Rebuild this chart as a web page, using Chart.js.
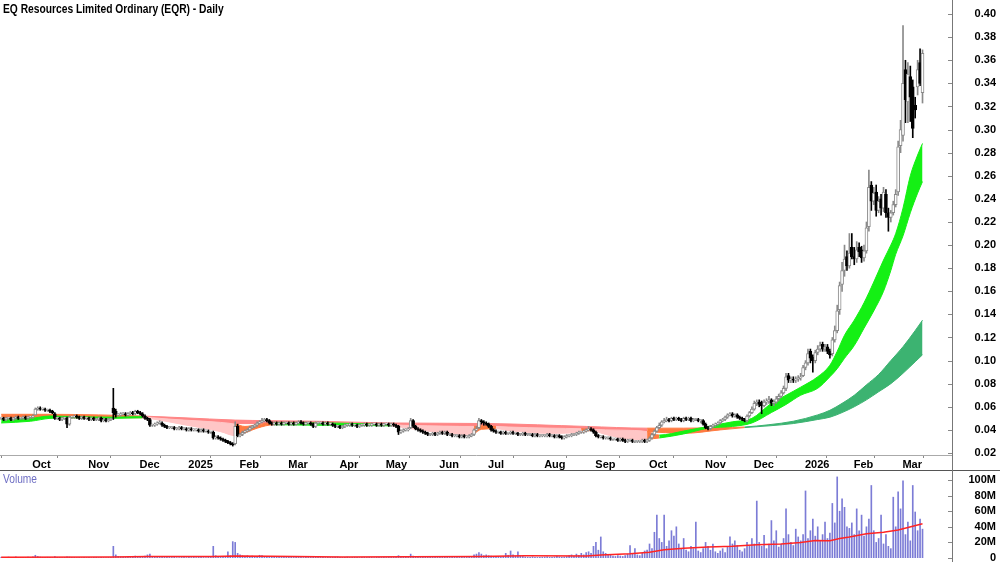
<!DOCTYPE html>
<html>
<head>
<meta charset="utf-8">
<script src="https://cdn.jsdelivr.net/npm/chart.js@4.4.1/dist/chart.umd.min.js"></script>
<style>
  html, body { margin: 0; padding: 0; background: #fff; }
  #wrap { position: relative; width: 1000px; height: 562px; overflow: hidden;
          font-family: 'Liberation Sans', Arial, sans-serif; }
  #price { position: absolute; left: 0; top: 0; }
  #vol { position: absolute; left: 0; top: 471px; }
  .title { position: absolute; left: 3px; top: 2px; font-weight: bold; font-size: 12px; color: #000;
           white-space: nowrap; transform: scaleX(0.855); transform-origin: 0 0; }
  .vlabel { position: absolute; left: 3px; top: 472px; font-size: 12px; color: #6f6fc4;
            transform: scaleX(0.85); transform-origin: 0 0; }
  .hline { position: absolute; left: 0; top: 470px; width: 1000px; height: 1px; background: #555; }
  .vline { position: absolute; left: 952px; top: 0; width: 1px; height: 562px; background: #777; }
</style>
</head>
<body>
<div id="wrap">
  <canvas id="price" width="1000" height="470"></canvas>
  <canvas id="vol" width="1000" height="100"></canvas>
  <div class="hline"></div>
  <div class="vline"></div>
  <div class="title">EQ Resources Limited Ordinary (EQR) - Daily</div>
  <div class="vlabel">Volume</div>
</div>
<script>
// daily bars, prices in cents, one line per month (Sep 2024 .. Mar 2026)
const opens = [
  5.0,5.0,4.9,5.0,5.0,4.9,5.0,5.1,5.0,5.0,5.1,5.0,
  5.1,5.1,5.3,5.8,5.9,5.8,5.8,5.7,5.7,5.6,5.4,5.0,5.0,4.9,5.0,5.0,4.5,5.1,5.1,5.2,5.1,5.0,5.1,
  5.0,5.0,4.9,5.0,4.9,4.9,5.0,4.8,4.9,4.8,4.9,5.9,5.6,5.3,5.3,5.4,5.4,5.3,5.4,5.5,5.4,
  5.6,5.5,5.4,5.2,5.0,4.9,4.4,4.4,4.5,4.6,4.6,4.4,4.3,4.2,4.2,4.2,4.1,4.1,4.2,4.1,
  4.1,4.0,4.1,4.0,4.0,4.0,3.9,4.0,3.9,3.9,3.8,3.8,3.3,3.4,3.3,3.2,3.1,3.0,2.9,2.8,2.8,
  4.3,3.5,3.6,3.8,3.9,4.0,4.2,4.3,4.4,4.6,4.7,4.8,4.9,4.8,4.6,4.5,4.6,4.5,4.6,4.5,
  4.6,4.6,4.5,4.6,4.5,4.6,4.7,4.6,4.5,4.6,4.6,4.5,4.3,4.6,4.6,4.6,4.5,4.6,4.5,4.5,4.4,
  4.3,4.3,4.2,4.3,4.4,4.4,4.5,4.4,4.4,4.3,4.4,4.4,4.5,4.4,4.4,4.5,4.5,4.4,4.5,
  4.4,4.5,4.5,4.4,4.5,4.4,4.3,3.8,3.9,4.0,4.0,4.2,4.8,4.3,4.1,4.0,3.9,3.8,3.7,3.6,3.6,3.7,
  3.6,3.7,3.8,3.7,3.8,3.6,3.6,3.5,3.5,3.5,3.4,3.5,3.4,3.4,3.5,3.6,4.0,4.2,4.8,4.7,
  4.6,4.5,4.3,4.0,3.9,3.8,3.8,3.7,3.8,3.7,3.7,3.8,3.7,3.7,3.6,3.6,3.7,3.6,3.6,3.6,3.5,3.6,3.5,
  3.5,3.5,3.5,3.6,3.5,3.5,3.4,3.5,3.4,3.3,3.4,3.5,3.5,3.6,3.6,3.7,3.8,3.8,3.9,4.0,4.1,
  4.0,3.8,3.5,3.4,3.4,3.3,3.3,3.3,3.2,3.2,3.2,3.1,3.2,3.1,3.0,3.1,3.1,3.0,3.0,3.0,3.0,3.1,
  3.0,3.1,3.3,3.6,3.9,4.2,4.4,4.7,4.8,4.9,4.8,5.0,4.9,5.0,4.9,4.8,5.0,4.9,5.0,4.8,4.9,4.9,4.8,
  4.8,4.5,4.2,4.1,4.3,4.4,4.5,4.6,4.8,4.9,5.1,5.3,5.4,5.2,5.3,5.1,5.0,4.9,4.8,5.2,
  5.5,5.8,6.3,6.4,6.4,6.1,6.4,6.5,6.6,6.3,6.4,6.7,6.9,7.2,7.6,8.7,8.3,8.4,8.3,8.4,8.5,
  8.7,9.4,9.8,10.8,10.3,10.0,10.7,11.0,11.4,11.0,11.2,10.8,10.6,11.8,12.6,14.4,16.6,17.8,19.0,18.2,
  19.8,19.0,18.8,19.8,19.6,18.9,19.5,21.6,25.2,23.8,24.6,23.0,24.0,23.2,24.4,22.8,22.4,22.8,23.5,24.6,
  28.6,29.5,35.2,32.4,34.6,33.7,32.1,33.7,35.8,33.2
];
const highs = [
  5.1,5.1,5.1,5.1,5.1,5.1,5.2,5.2,5.1,5.2,5.2,5.2,
  5.2,5.3,5.9,6.0,6.0,5.9,5.9,5.8,5.8,5.7,5.5,5.1,5.1,5.1,5.1,5.1,5.2,5.2,5.3,5.3,5.2,5.2,5.2,
  5.1,5.1,5.1,5.1,5.0,5.1,5.1,5.0,5.0,5.0,5.0,7.6,5.8,5.4,5.5,5.5,5.5,5.5,5.6,5.6,5.7,
  5.7,5.6,5.5,5.3,5.1,5.0,4.5,4.6,4.7,4.8,4.7,4.5,4.4,4.3,4.3,4.3,4.2,4.3,4.3,4.2,
  4.2,4.2,4.2,4.1,4.1,4.1,4.1,4.1,4.0,4.0,3.9,3.9,3.5,3.5,3.4,3.3,3.2,3.1,3.0,2.9,4.7,
  4.5,3.7,3.9,4.0,4.1,4.3,4.4,4.5,4.7,4.8,5.0,5.0,5.0,4.9,4.7,4.7,4.7,4.7,4.7,4.7,
  4.7,4.7,4.7,4.7,4.7,4.8,4.8,4.7,4.7,4.7,4.7,4.6,4.7,4.7,4.7,4.7,4.7,4.7,4.6,4.6,4.5,
  4.4,4.4,4.4,4.5,4.5,4.6,4.6,4.5,4.5,4.5,4.5,4.6,4.6,4.5,4.6,4.6,4.6,4.6,4.6,
  4.6,4.6,4.6,4.6,4.6,4.5,4.4,4.0,4.1,4.1,4.2,5.0,4.9,4.4,4.2,4.1,4.0,3.9,3.8,3.7,3.8,3.8,
  3.8,3.9,3.9,3.9,3.9,3.7,3.7,3.6,3.6,3.6,3.6,3.6,3.5,3.6,3.7,4.1,4.3,5.0,4.9,4.8,
  4.7,4.6,4.4,4.1,4.0,3.9,3.9,3.9,3.9,3.8,3.9,3.9,3.8,3.8,3.7,3.8,3.8,3.7,3.7,3.7,3.7,3.7,3.6,
  3.6,3.6,3.7,3.7,3.6,3.6,3.6,3.6,3.5,3.5,3.6,3.6,3.7,3.7,3.8,3.9,3.9,4.0,4.1,4.3,4.2,
  4.1,3.9,3.6,3.5,3.5,3.4,3.4,3.4,3.3,3.3,3.3,3.3,3.3,3.2,3.2,3.2,3.2,3.1,3.1,3.1,3.2,3.2,
  3.2,3.4,3.7,4.0,4.3,4.6,4.8,5.0,5.1,5.0,5.1,5.1,5.1,5.1,5.0,5.1,5.1,5.1,5.1,5.0,5.0,5.0,4.9,
  4.9,4.6,4.3,4.4,4.5,4.6,4.7,4.9,5.0,5.2,5.4,5.5,5.5,5.4,5.4,5.2,5.1,5.0,5.3,5.6,
  6.0,6.5,6.6,6.6,6.5,6.6,6.7,6.9,6.7,6.6,6.9,7.1,7.4,7.8,8.9,8.9,8.6,8.6,8.6,8.7,8.9,
  9.6,10.0,11.0,11.0,10.5,10.9,11.3,11.6,11.6,11.4,11.4,11.0,12.0,13.0,14.8,16.8,18.5,20.0,19.5,21.0,
  21.0,19.8,20.3,20.2,19.9,20.0,22.0,26.5,25.5,25.0,25.2,24.2,24.4,25.0,24.8,23.2,23.0,23.8,24.8,29.0,
  30.8,39.0,36.0,35.8,35.5,34.3,32.8,36.0,37.0,36.9
];
const lows = [
  4.9,4.8,4.8,4.9,4.8,4.8,4.9,4.9,4.9,4.9,4.9,4.9,
  5.0,5.0,5.3,5.7,5.7,5.7,5.6,5.6,5.5,5.4,4.9,4.9,4.8,4.8,4.9,4.2,4.4,5.0,5.0,5.0,4.9,4.9,4.9,
  4.9,4.8,4.8,4.8,4.8,4.8,4.7,4.7,4.7,4.7,4.8,4.9,5.1,5.2,5.2,5.3,5.2,5.2,5.3,5.3,5.3,
  5.4,5.3,5.1,4.9,4.8,4.3,4.3,4.3,4.4,4.5,4.3,4.2,4.1,4.1,4.1,4.0,4.0,4.0,4.0,4.0,
  3.9,3.9,3.9,3.9,3.9,3.8,3.8,3.8,3.8,3.7,3.7,3.2,3.2,3.2,3.1,3.0,2.9,2.8,2.7,2.6,2.7,
  3.4,3.4,3.5,3.7,3.8,3.9,4.1,4.2,4.3,4.5,4.6,4.7,4.7,4.5,4.4,4.4,4.4,4.4,4.4,4.4,
  4.5,4.4,4.4,4.4,4.4,4.5,4.5,4.4,4.4,4.5,4.4,4.2,4.2,4.5,4.5,4.4,4.4,4.4,4.4,4.3,4.2,
  4.2,4.1,4.1,4.2,4.3,4.3,4.3,4.3,4.2,4.2,4.3,4.3,4.3,4.3,4.3,4.4,4.3,4.3,4.3,
  4.3,4.4,4.3,4.3,4.3,4.2,3.6,3.7,3.8,3.9,3.9,4.1,4.2,4.0,3.9,3.8,3.7,3.6,3.5,3.5,3.5,3.5,
  3.5,3.6,3.6,3.6,3.5,3.5,3.4,3.4,3.4,3.3,3.3,3.3,3.3,3.3,3.4,3.5,3.9,4.1,4.5,4.4,
  4.4,4.2,3.9,3.8,3.7,3.7,3.6,3.6,3.6,3.6,3.6,3.6,3.6,3.5,3.5,3.5,3.5,3.5,3.5,3.4,3.4,3.4,3.4,
  3.4,3.4,3.4,3.4,3.4,3.3,3.3,3.3,3.2,3.2,3.3,3.4,3.4,3.5,3.5,3.6,3.7,3.7,3.8,3.9,3.9,
  3.7,3.4,3.3,3.3,3.2,3.2,3.2,3.1,3.1,3.1,3.0,3.0,3.0,2.9,2.9,3.0,2.9,2.9,2.9,2.9,2.9,2.9,
  2.9,3.0,3.2,3.5,3.8,4.1,4.3,4.6,4.7,4.7,4.7,4.8,4.8,4.8,4.7,4.7,4.8,4.8,4.7,4.7,4.8,4.7,4.6,
  4.4,4.1,4.0,4.0,4.2,4.3,4.4,4.5,4.7,4.8,5.0,5.2,5.1,5.1,5.0,4.9,4.8,4.7,4.7,5.1,
  5.4,5.7,6.1,6.0,5.4,6.0,6.2,6.3,6.1,6.1,6.3,6.5,6.8,7.1,7.4,8.1,8.1,8.1,8.1,8.2,8.3,
  8.6,9.2,9.6,9.8,9.0,9.8,10.5,10.8,10.8,10.8,10.6,10.2,10.4,11.6,12.4,14.0,16.0,17.3,17.8,18.0,
  18.8,18.3,18.5,19.0,18.5,18.6,19.3,21.2,23.0,23.5,22.5,22.8,22.6,22.9,22.4,21.2,22.0,22.6,23.3,24.3,
  28.0,29.0,30.6,30.6,30.7,29.3,31.0,33.0,33.8,32.3
];
const closes = [
  5.0,4.9,5.0,5.0,4.9,5.0,5.1,5.0,5.0,5.1,5.0,5.1,
  5.1,5.2,5.8,5.9,5.8,5.8,5.7,5.7,5.6,5.5,5.0,5.0,4.9,5.0,5.0,4.5,5.1,5.1,5.2,5.1,5.0,5.1,5.0,
  5.0,4.9,5.0,4.9,4.9,5.0,4.8,4.9,4.8,4.9,4.9,5.5,5.3,5.3,5.4,5.4,5.3,5.4,5.5,5.4,5.6,
  5.5,5.4,5.2,5.0,4.9,4.4,4.4,4.5,4.6,4.6,4.4,4.3,4.2,4.2,4.2,4.1,4.1,4.2,4.1,4.1,
  4.0,4.1,4.0,4.0,4.0,3.9,4.0,3.9,3.9,3.8,3.8,3.3,3.4,3.3,3.2,3.1,3.0,2.9,2.8,2.7,4.3,
  3.5,3.6,3.8,3.9,4.0,4.2,4.3,4.4,4.6,4.7,4.8,4.9,4.8,4.6,4.5,4.6,4.5,4.6,4.5,4.6,
  4.6,4.5,4.6,4.5,4.6,4.7,4.6,4.5,4.6,4.6,4.5,4.3,4.6,4.6,4.6,4.5,4.6,4.5,4.5,4.4,4.3,
  4.3,4.2,4.3,4.4,4.4,4.5,4.4,4.4,4.3,4.4,4.4,4.5,4.4,4.4,4.5,4.5,4.4,4.5,4.4,
  4.5,4.5,4.4,4.5,4.4,4.3,3.8,3.9,4.0,4.0,4.1,4.8,4.3,4.1,4.0,3.9,3.8,3.7,3.6,3.6,3.7,3.6,
  3.7,3.8,3.7,3.8,3.6,3.6,3.5,3.5,3.5,3.4,3.5,3.4,3.4,3.5,3.6,4.0,4.1,4.8,4.7,4.6,
  4.5,4.3,4.0,3.9,3.8,3.8,3.7,3.8,3.7,3.7,3.8,3.7,3.7,3.6,3.6,3.7,3.6,3.6,3.6,3.5,3.6,3.5,3.5,
  3.5,3.5,3.6,3.5,3.5,3.4,3.5,3.4,3.3,3.4,3.5,3.5,3.6,3.6,3.7,3.8,3.8,3.9,4.0,4.1,4.0,
  3.8,3.5,3.4,3.4,3.3,3.3,3.3,3.2,3.2,3.2,3.1,3.2,3.1,3.0,3.1,3.1,3.0,3.0,3.0,3.0,3.1,3.0,
  3.1,3.3,3.6,3.9,4.2,4.4,4.7,4.8,4.9,4.8,5.0,4.9,5.0,4.9,4.8,5.0,4.9,5.0,4.8,4.9,4.9,4.8,4.8,
  4.5,4.2,4.1,4.3,4.4,4.5,4.6,4.8,4.9,5.1,5.3,5.4,5.2,5.3,5.1,5.0,4.9,4.8,5.2,5.5,
  5.8,6.3,6.4,6.2,6.1,6.4,6.5,6.6,6.3,6.4,6.7,6.9,7.2,7.6,8.6,8.3,8.4,8.3,8.4,8.5,8.6,
  9.4,9.8,10.6,10.2,10.0,10.7,11.0,11.3,11.0,11.2,10.8,10.5,11.8,12.6,14.3,16.5,17.8,18.8,18.2,19.3,
  19.0,18.8,19.6,19.4,18.9,19.5,21.5,25.0,23.8,24.5,23.0,23.8,23.2,24.6,22.8,22.4,22.8,23.5,24.4,28.5,
  30.0,34.0,32.6,34.8,32.8,30.1,31.7,35.2,34.0,36.6
];
// volume in millions
const volumes = [
  1.0,0.5,0.8,1.2,0.6,0.9,1.5,0.7,0.8,1.0,0.6,1.1,
  0.8,1.5,3.5,2.0,1.2,0.9,0.8,1.0,0.7,0.6,1.8,0.9,0.7,0.6,0.8,1.5,1.2,0.7,0.9,0.6,0.8,0.5,0.7,
  0.6,0.8,0.5,0.7,0.9,0.6,1.0,0.7,0.5,0.8,0.9,15.0,4.0,2.0,1.5,1.2,1.0,1.8,1.3,1.0,2.5,
  1.5,1.2,2.0,2.5,4.0,5.0,2.0,1.5,2.0,1.2,1.0,1.8,1.2,0.8,0.7,0.9,0.5,0.6,0.8,0.7,
  0.6,0.8,0.7,1.0,0.6,0.9,0.8,0.7,0.6,1.0,0.8,15.0,3.0,2.0,1.5,1.8,2.0,8.0,3.0,21.0,20.0,
  6.0,4.0,3.0,2.5,3.0,2.0,2.5,1.8,2.2,3.5,3.0,2.0,1.5,1.8,1.2,1.0,1.5,1.2,0.9,1.0,
  1.2,0.9,1.0,0.8,1.5,1.2,0.9,0.7,1.0,1.1,0.8,2.0,1.5,1.0,0.8,0.9,0.7,1.0,0.8,0.9,1.2,
  1.5,1.0,0.8,0.9,1.2,0.7,0.8,1.0,0.9,0.6,0.8,1.0,0.7,0.9,0.8,0.6,0.9,0.7,0.8,
  0.9,0.7,1.0,0.8,0.9,1.0,3.0,1.5,1.2,1.0,1.5,5.0,2.5,1.5,1.2,1.0,1.3,1.5,1.2,1.0,0.9,1.1,
  1.0,1.2,0.9,1.0,1.3,0.8,1.0,0.9,1.2,0.8,1.0,0.9,0.8,1.1,1.5,4.0,5.0,7.0,5.0,3.0,
  4.0,3.0,2.5,2.0,1.5,2.0,1.2,2.0,6.0,3.5,9.0,4.0,2.5,8.0,3.0,2.0,1.3,1.1,0.9,1.5,1.0,0.8,1.0,
  1.0,1.2,1.5,0.9,1.0,1.3,2.0,1.5,1.0,1.2,1.8,3.0,4.0,2.5,5.0,3.5,6.0,4.0,7.0,8.0,6.0,
  15,20,10,27,8,6,4,3.5,2.5,2,3,2.5,2,3,5,16,6,12,4,3,6,9,
  10,18,12,33,55,25,20,55,15,22,35,28,40,18,12,25,10,8,15,12,46,9,7,
  12,20,15,10,18,8,6,9,12,7,14,27,18,22,16,10,8,12,20,15,
  25,18,73,20,15,29,12,18,48,22,35,14,18,25,63,30,20,16,37,27,22,
  30,86,25,35,50,28,40,22,30,46,25,32,70,45,104,60,76,65,40,38,
  45,30,63,35,55,28,40,50,93,35,20,25,55,18,30,15,12,78,40,85,
  63,99,30,46,22,93,59,35,50,37
];

// volume average line, read at a few bar positions
const volAvgIdx = [0,46,60,87,96,110,140,168,196,215,240,246,258,266,272,280,290,300,310,320,328,334,340,344,348,355,362,368,372,378];
const volAvg    = [1.0,1.3,1.8,2.0,2.6,2.3,1.4,1.6,2.0,2.8,2.6,4.0,5.5,7.5,10.5,12.5,14.0,15.0,17.0,18.0,20.0,22.5,22.0,25.0,27.0,31.0,33.0,36.0,39.0,44.0];

// moving average ribbons (edges in cents, read at bar positions), colour code per segment
const shortIdx = [0,12,20,30,46,58,62,75,90,96,100,105,112,130,160,165,175,188,194,197,203,208,225,238,242,248,260,265,270,280,290,300,308,316,322,328,335,340,343,346,350,354,358,362,365,367,370,373,376,378];
const shortHi  = [4.95,5.0,5.2,5.15,5.1,5.15,5.05,4.85,4.65,4.5,4.3,4.45,4.6,4.6,4.45,4.4,4.35,4.3,4.3,4.35,4.3,4.25,4.15,4.1,4.05,4.0,3.95,3.85,3.55,3.9,4.3,4.7,5.0,6.3,7.0,7.7,8.6,9.6,10.8,12.2,13.5,15.0,16.8,18.7,20.0,21.0,23.2,26.0,27.8,28.8];
const shortLo  = [4.6,4.75,5.0,5.05,5.0,5.05,4.95,4.45,3.85,3.5,3.75,4.15,4.45,4.4,4.35,4.2,3.9,3.55,3.7,4.05,4.1,3.95,3.7,3.8,3.95,3.6,3.15,3.2,3.3,3.65,4.15,4.3,4.6,5.5,6.2,7.0,7.6,8.6,9.3,10.2,11.3,12.8,14.3,16.0,17.8,19.2,20.8,22.8,24.5,25.5];
const shortCol = 'ggggg' + 'pppp' + 'ooo' + 'gg' + 'pppp' + 'oo' + 'ppp' + 'o' + 'ppp' + 'o' + 'gggggggggggggggggggggg';

const longIdx = [0,20,40,58,75,96,110,130,160,200,240,265,280,295,305,315,325,335,340,345,350,355,360,365,370,375,378];
const longHi  = [5.35,5.35,5.3,5.2,5.05,4.85,4.8,4.75,4.6,4.55,4.3,4.15,4.15,4.2,4.25,4.45,4.75,5.3,5.7,6.3,7.0,7.9,8.8,10.0,11.2,12.6,13.5];
const longLo  = [5.0,5.05,5.05,5.05,4.85,4.55,4.55,4.55,4.4,4.3,4.05,3.85,3.7,4.0,4.2,4.35,4.55,4.9,5.1,5.5,6.0,6.6,7.3,8.0,8.9,9.9,10.5];
const longCol = 'ooo' + 'rrrrrrrr' + 'ooo' + 'ddddddddddddd';

const monthStarts = [12,35,56,76,97,117,138,157,179,199,222,243,265,288,308,329,349,369];
const monthLabels = ['Oct','Nov','Dec','2025','Feb','Mar','Apr','May','Jun','Jul','Aug','Sep','Oct','Nov','Dec','2026','Feb','Mar'];
const priceTicks = [0.02,0.04,0.06,0.08,0.10,0.12,0.14,0.16,0.18,0.20,0.22,0.24,0.26,0.28,0.30,0.32,0.34,0.36,0.38,0.40];
const volTicks = [0,20,40,60,80,100];

Chart.defaults.font.family = "'Liberation Sans', Arial, sans-serif";
Chart.defaults.font.size = 11;
Chart.defaults.color = '#000';

const colours = { g: '#14f014', o: '#ff7a40', p: '#ffc6c6', r: '#ff8585', d: '#3cb371' };
const X_MIN = -0.5, X_MAX = 390.1;

const up = closes.map((c, i) => c >= opens[i]);
const cents = (idx, vals) => idx.map((x, k) => ({ x, y: vals[k] / 100 }));

function ribbon(idx, vals, codes, fill, order) {
  const pick = c => colours[codes[c.p0DataIndex]];
  return {
    type: 'line', data: cents(idx, vals), fill, order,
    borderWidth: 1, pointRadius: 0, cubicInterpolationMode: 'monotone',
    borderColor: colours[codes[0]], backgroundColor: colours[codes[0]],
    segment: { borderColor: pick, backgroundColor: pick }
  };
}

// keep the plot area at full height: labels may sit on the edges
const noEdgePadding = s => { s.paddingTop = 0; s.paddingBottom = 0; s.width = 44; };

// small tick dashes on the inside of the right axis line
const axisDashes = {
  id: 'axisDashes',
  afterDraw(chart) {
    const { ctx, chartArea, scales } = chart;
    ctx.save();
    ctx.strokeStyle = '#888';
    ctx.lineWidth = 1;
    scales.y.ticks.forEach(t => {
      const py = Math.round(scales.y.getPixelForValue(t.value)) + 0.5;
      ctx.beginPath();
      ctx.moveTo(chartArea.right - 4, py);
      ctx.lineTo(chartArea.right, py);
      ctx.stroke();
    });
    ctx.restore();
  }
};

new Chart(document.getElementById('price'), {
  type: 'bar',
  data: {
    datasets: [
      ribbon(longIdx, longHi, longCol, '+1', 3),
      ribbon(longIdx, longLo, longCol, false, 3),
      ribbon(shortIdx, shortHi, shortCol, '+1', 2),
      ribbon(shortIdx, shortLo, shortCol, false, 2),
      {
        data: closes.map((c, i) => ({ x: i, y: [lows[i] / 100, highs[i] / 100] })),
        barThickness: 1, grouped: false, order: 1,
        backgroundColor: up.map(u => u ? '#8a8a8a' : '#000')
      },
      {
        data: closes.map((c, i) => ({ x: i, y: [opens[i] / 100, c / 100] })),
        barThickness: 3, grouped: false, order: 0, minBarLength: 1,
        borderWidth: 1, borderSkipped: false,
        backgroundColor: up.map(u => u ? '#fff' : '#000'),
        borderColor: up.map(u => u ? '#8a8a8a' : '#000')
      }
    ]
  },
  options: {
    responsive: false, animation: false, events: [],
    layout: { padding: { left: 0, right: 4, top: 0, bottom: 0 } },
    plugins: { legend: { display: false }, tooltip: { enabled: false } },
    scales: {
      x: {
        type: 'linear', min: X_MIN, max: X_MAX, offset: false,
        afterBuildTicks: s => { s.ticks = monthStarts.map(v => ({ value: v - 0.5 })); },
        afterFit: s => { s.height = 15; s.paddingLeft = 0; s.paddingRight = 0; },
        border: { display: true, color: '#aaa' },
        grid: { display: true, drawOnChartArea: false, drawTicks: true, tickLength: 3, color: '#888' },
        ticks: {
          autoSkip: false, maxRotation: 0, align: 'start', padding: 0,
          font: { weight: 'bold' },
          callback: (v, i) => ' ' + monthLabels[i]
        }
      },
      y: {
        position: 'right', min: 0.01827, max: 0.4122,
        afterBuildTicks: s => { s.ticks = priceTicks.map(v => ({ value: v })); },
        afterFit: noEdgePadding,
        border: { display: false },
        grid: { display: false },
        ticks: { autoSkip: false, crossAlign: 'far', padding: 0, font: { weight: 'bold' }, callback: v => v.toFixed(2) }
      }
    }
  },
  plugins: [axisDashes]
});

new Chart(document.getElementById('vol'), {
  type: 'bar',
  data: {
    datasets: [
      {
        type: 'line', order: 0,
        data: volAvgIdx.map((x, k) => ({ x, y: volAvg[k] })),
        borderColor: '#ff2424', borderWidth: 1.5, pointRadius: 0, fill: false
      },
      {
        order: 1, grouped: false, barThickness: 1,
        data: volumes.map((v, i) => ({ x: i, y: v })),
        backgroundColor: '#7c7cd6'
      }
    ]
  },
  options: {
    responsive: false, animation: false, events: [],
    layout: { padding: { left: 0, right: 4, top: 1, bottom: 13 } },
    plugins: { legend: { display: false }, tooltip: { enabled: false } },
    scales: {
      x: { type: 'linear', min: X_MIN, max: X_MAX, offset: false, display: false },
      y: {
        position: 'right', min: 0, max: 110.3,
        afterBuildTicks: s => { s.ticks = volTicks.map(v => ({ value: v })); },
        afterFit: noEdgePadding,
        border: { display: false },
        grid: { display: false },
        ticks: { autoSkip: false, crossAlign: 'far', padding: 0, font: { weight: 'bold' },
                 callback: v => v === 0 ? '0' : v + 'M' }
      }
    }
  },
  plugins: [axisDashes]
});
</script>
</body>
</html>
